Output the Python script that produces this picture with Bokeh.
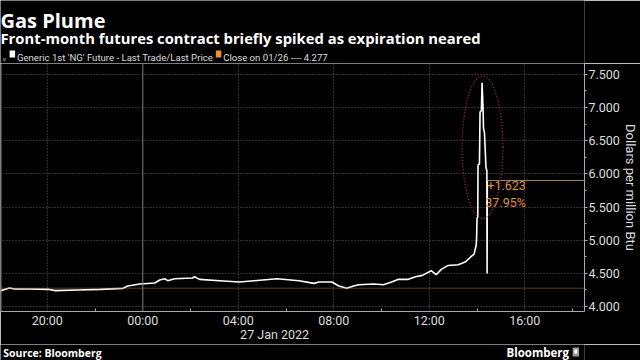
from bokeh.plotting import figure
from bokeh.layouts import column
from bokeh.models import (Range1d, FixedTicker, Span, Label, ColumnDataSource)
from bokeh.core.properties import value
from bokeh.embed import file_html
from bokeh.resources import INLINE

# ---- data (hours relative to midnight, 27 Jan 2022) ----
hours = [-6.0, -5.58, -5.375, -4.75, -3.96, -3.67, -2.71, -1.79, -0.83, -0.625, -0.125,
         0.5, 0.71, 0.92, 1.04, 1.33, 2.08, 2.17, 2.375, 3.21, 4.04, 4.67, 5.625, 6.54,
         7.17, 7.375, 7.92, 8.21, 8.54, 8.83, 9.04, 9.67, 10.08, 10.42, 10.71, 11.125,
         11.42, 11.71, 12.08, 12.29, 12.5, 12.79, 13.21, 13.5, 13.71, 13.875, 13.96,
         13.98, 14.0, 14.03, 14.04, 14.10, 14.125, 14.18, 14.21, 14.25, 14.27, 14.31,
         14.375, 14.41, 14.42, 14.43]
price = [4.235, 4.28, 4.265, 4.265, 4.26, 4.24, 4.25, 4.26, 4.275, 4.31, 4.34,
         4.355, 4.40, 4.42, 4.39, 4.42, 4.43, 4.45, 4.41, 4.39, 4.37, 4.39, 4.42, 4.39,
         4.35, 4.37, 4.37, 4.31, 4.275, 4.31, 4.33, 4.34, 4.33, 4.37, 4.41, 4.41,
         4.45, 4.47, 4.54, 4.48, 4.56, 4.62, 4.63, 4.67, 4.74, 4.79, 4.92,
         5.02, 5.33, 5.35, 6.13, 6.15, 6.93, 6.95, 7.37, 7.00, 6.68, 6.62,
         6.09, 6.05, 4.50, 5.90]
prev_close = 4.277
last_price = 5.900

tick_hours = [-4, 0, 4, 8, 12, 16]
tick_labels = ["20:00", "00:00", "04:00", "08:00", "12:00", "16:00"]
minor_hours = [-6, -2, 2, 6, 10, 14, 18]
date_label = "27 Jan 2022"
date_pos = 5.52

y_ticks = [4.0, 4.5, 5.0, 5.5, 6.0, 6.5, 7.0, 7.5]
y_minor = [4.25, 4.75, 5.25, 5.75, 6.25, 6.75, 7.25]

ell_x, ell_y, ell_w, ell_h = 14.23, 6.40, 1.71, 2.15

title = "Gas Plume"
subtitle = "Front-month futures contract briefly spiked as expiration neared"
legend1 = "Generic 1st 'NG' Future - Last Trade/Last Price"
legend2 = "Close on 01/26 ---- 4.277"
source = "Source: Bloomberg"
brand = "Bloomberg"

BG = "#000000"
FG = "#dddddd"
GRID = "#5a5a5a"
ORANGE = "#e0913a"
FONT = "Roboto"
HFONT = "Open Sans"

W = 640
HEAD_H = 63
FOOT_H = 16
MAIN_H = 360 - HEAD_H - FOOT_H


def blank(h):
    f = figure(width=W, height=h, output_backend="svg", toolbar_location=None,
               x_range=Range1d(0, W), y_range=Range1d(h, 0),
               min_border=0, background_fill_color=BG, border_fill_color=BG,
               outline_line_color=None)
    f.axis.visible = False
    f.grid.visible = False
    return f

# ---- header ----
head = blank(HEAD_H)
head.text(x=[0], y=[20], text=[title], text_color="#ffffff", text_font=value(HFONT),
          text_font_style="bold", text_font_size="20px", text_baseline="alphabetic")
head.text(x=[0], y=[37], text=[subtitle], text_color="#ffffff", text_font=value(HFONT),
          text_font_style="bold", text_font_size="14.8px", text_baseline="alphabetic")
head.text(x=[2], y=[57], text=["\u1d69"], text_color="#888888", text_font=value("DejaVu Sans"),
          text_font_size="10px", text_baseline="alphabetic")
head.quad(left=[10], right=[16], top=[50], bottom=[57], fill_color="#ffffff", line_color=None)
head.text(x=[18], y=[57], text=[legend1], text_color=FG, text_font=value(FONT),
          text_font_size="9.6px", text_baseline="alphabetic")
head.quad(left=[236], right=[242], top=[50], bottom=[57], fill_color="#e8923a", line_color=None)
head.text(x=[244], y=[57], text=[legend2], text_color=FG, text_font=value(FONT),
          text_font_size="9.6px", text_baseline="alphabetic")

# ---- main chart ----
p = figure(width=W, height=MAIN_H, output_backend="svg", toolbar_location=None,
           x_range=Range1d(-5.96, 18.5), y_range=Range1d(3.926, 7.662),
           y_axis_location="right", min_border_left=0, min_border_right=53,
           min_border_top=0, min_border_bottom=0,
           background_fill_color=BG, border_fill_color=BG, outline_line_color=None)

xticks = tick_hours + [date_pos]
xlabels = {t: l for t, l in zip(tick_hours, tick_labels)}
xlabels[date_pos] = "\n" + date_label

xa = p.xaxis[0]
xa.ticker = FixedTicker(ticks=xticks, minor_ticks=minor_hours)
xa.major_label_overrides = xlabels
xa.axis_line_color = "#aaaaaa"
xa.major_tick_line_color = None
xa.minor_tick_line_color = "#aaaaaa"
xa.major_tick_in = 0
xa.major_tick_out = 0
xa.minor_tick_in = 3
xa.minor_tick_out = 0
xa.major_label_text_color = FG
xa.major_label_text_font = FONT
xa.major_label_text_font_size = "12.5px"
xa.major_label_text_line_height = 0.95
xa.major_label_standoff = 1

ya = p.yaxis[0]
ya.ticker = FixedTicker(ticks=y_ticks, minor_ticks=y_minor)
ya.major_label_overrides = {t: f"{t:.3f}" for t in y_ticks}
ya.axis_line_color = "#aaaaaa"
ya.major_tick_line_color = "#aaaaaa"
ya.minor_tick_line_color = "#aaaaaa"
ya.major_tick_in = 0
ya.major_tick_out = 3
ya.minor_tick_in = 0
ya.minor_tick_out = 2
ya.major_label_text_color = FG
ya.major_label_text_font = FONT
ya.major_label_text_font_size = "12.5px"
ya.major_label_standoff = 1
ya.axis_label = "Dollars per million Btu"
ya.axis_label_text_color = FG
ya.axis_label_text_font = FONT
ya.axis_label_text_font_style = "normal"
ya.axis_label_text_font_size = "13px"
ya.axis_label_standoff = 0

p.xgrid.ticker = FixedTicker(ticks=[t for t in tick_hours if t != 0])
p.xgrid.grid_line_color = GRID
p.xgrid.grid_line_dash = "1 2"
p.ygrid.ticker = FixedTicker(ticks=y_ticks)
p.ygrid.grid_line_color = GRID
p.ygrid.grid_line_dash = "1 2"
p.add_layout(Span(location=0, dimension="height", line_color="#808080", line_width=1))
p.add_layout(Span(location=p.x_range.start, dimension="height", line_color="#808080", line_width=2))

p.add_layout(Span(location=prev_close, dimension="width", line_color="#b07a3a",
                  line_width=1, line_dash="1 1"))

src = ColumnDataSource(dict(x=hours, y=price))
p.line("x", "y", source=src, line_color="#ffffff", line_width=1.6)

p.segment(x0=[hours[-1]], y0=[last_price], x1=[p.x_range.end], y1=[last_price],
          line_color="#a08468", line_width=1)

p.ellipse(x=[ell_x], y=[ell_y], width=[ell_w], height=[ell_h], fill_color=None,
          line_color="#a8304e", line_width=1.3, line_dash="1 2")

chg = last_price - prev_close
pct = chg / prev_close * 100
p.add_layout(Label(x=hours[-1], y=last_price, text=f"+{chg:.3f}", text_color=ORANGE,
                   text_font=FONT, text_font_size="12.5px", text_baseline="top",
                   x_offset=0, y_offset=-1))
p.add_layout(Label(x=hours[-1], y=last_price, text=f"{pct:.2f}%", text_color=ORANGE,
                   text_font=FONT, text_font_size="12.5px", text_baseline="top",
                   x_offset=-2, y_offset=-15))

# ---- footer ----
foot = blank(FOOT_H)
foot.text(x=[3], y=[8], text=[source], text_color="#ffffff", text_font=value(HFONT),
          text_font_style="bold", text_font_size="10.5px", text_baseline="middle")
foot.text(x=[623], y=[8], text=[brand], text_color="#ffffff", text_font=value(HFONT),
          text_font_style="bold", text_font_size="11.5px", text_baseline="middle",
          text_align="right")
foot.quad(left=[627], right=[634], top=[3], bottom=[12], fill_color="#9a9a9a", line_color=None)
foot.quad(left=[629], right=[632], top=[5], bottom=[9], fill_color="#ffffff", line_color=None)

layout = column(head, p, foot, spacing=0)
open("out.html", "w").write(file_html(layout, INLINE))
